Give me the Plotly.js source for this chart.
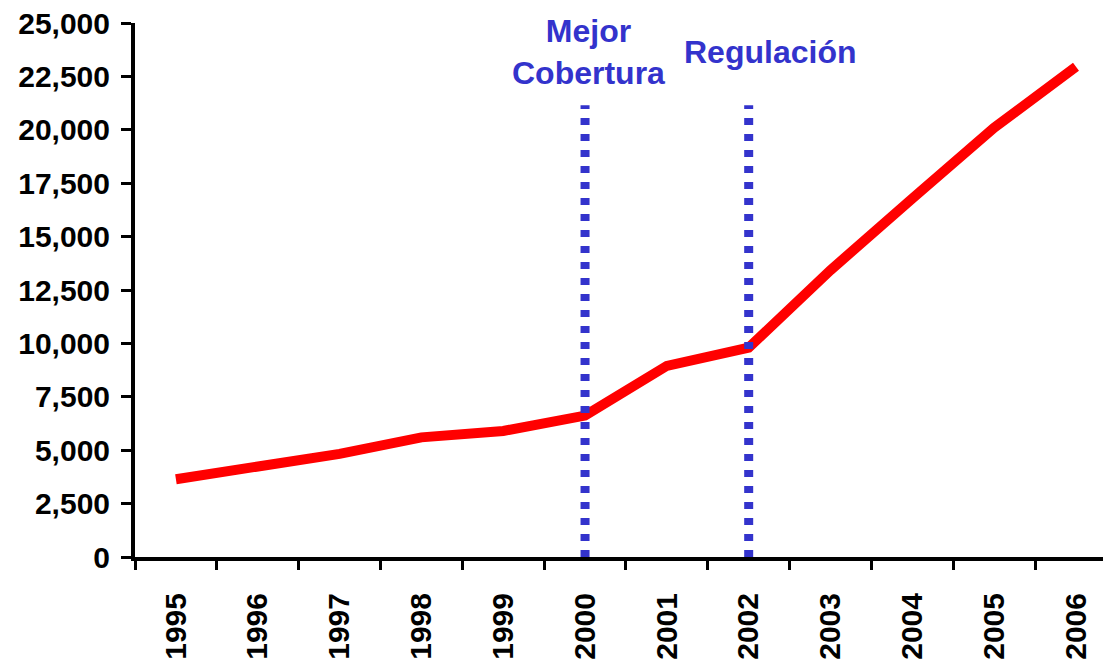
<!DOCTYPE html>
<html>
<head>
<meta charset="utf-8">
<script src="https://cdn.plot.ly/plotly-3.0.1.min.js"></script>
<style>html,body{margin:0;padding:0;background:#fff;}#chart{width:1103px;height:662px;}</style>
</head>
<body>
<div id="chart"></div>
<script>
const years = ['1995','1996','1997','1998','1999','2000','2001','2002','2003','2004','2005','2006'];
const values = [3640, 4200, 4830, 5600, 5900, 6620, 8950, 9800, 13430, 16780, 20100, 22950];
const yTicks = [0, 2500, 5000, 7500, 10000, 12500, 15000, 17500, 20000, 22500, 25000];
const yTickLabels = ['0','2,500','5,000','7,500','10,000','12,500','15,000','17,500','20,000','22,500','25,000'];
const markerYears = ['2000', '2002'];
const markerLabels = ['Mejor<br>Cobertura', 'Regulación'];
const markerTop = 21150;

const FONT = 'Liberation Sans, Arial, sans-serif';
const BLUE = '#3333CC';

const trace = {
  x: years, y: values, type: 'scatter', mode: 'lines',
  line: {color: '#FF0000', width: 10},
  hoverinfo: 'skip', showlegend: false
};

// category serial index of each marker year
const markerIdx = markerYears.map(yr => years.indexOf(yr));

const shapes = markerIdx.map(ix => ({
  type: 'line', xref: 'x', yref: 'y', x0: ix, x1: ix, y0: 0, y1: markerTop,
  line: {color: BLUE, width: 9, dash: '7px,9px'}, layer: 'above'
}));

const annShift = [3, 21];
const annotations = markerIdx.map((ix, i) => ({
  x: ix, y: 23650, xref: 'x', yref: 'y', text: markerLabels[i],
  showarrow: false, xanchor: 'center', yanchor: 'middle', xshift: annShift[i],
  font: {family: FONT, size: 32, color: BLUE, weight: 'bold'}
}));

const layout = {
  width: 1103, height: 662,
  margin: {l: 135, r: 0, t: 23, b: 105, pad: 0},
  paper_bgcolor: '#fff', plot_bgcolor: '#fff',
  showlegend: false,
  font: {family: FONT, size: 30, color: '#000', weight: 'bold'},
  xaxis: {
    type: 'category', range: [-0.5, 11.33],
    tickson: 'boundaries', ticks: 'outside', ticklen: 9, tickwidth: 3, tickcolor: '#000',
    tickangle: -90, showline: true, linecolor: '#000', linewidth: 4,
    showgrid: false, zeroline: false, ticklabelstandoff: 20,
    tickfont: {family: FONT, size: 30, color: '#000', weight: 'bold'}
  },
  yaxis: {
    range: [0, 25000], tickmode: 'array', tickvals: yTicks, ticktext: yTickLabels,
    ticks: 'outside', ticklen: 10, tickwidth: 3, tickcolor: '#000',
    showline: true, linecolor: '#000', linewidth: 4,
    showgrid: false, zeroline: false, ticklabelstandoff: 5,
    tickfont: {family: FONT, size: 30, color: '#000', weight: 'bold'}
  },
  shapes: shapes,
  annotations: annotations
};

Plotly.newPlot('chart', [trace], layout, {displayModeBar: false, staticPlot: true});
</script>
</body>
</html>
